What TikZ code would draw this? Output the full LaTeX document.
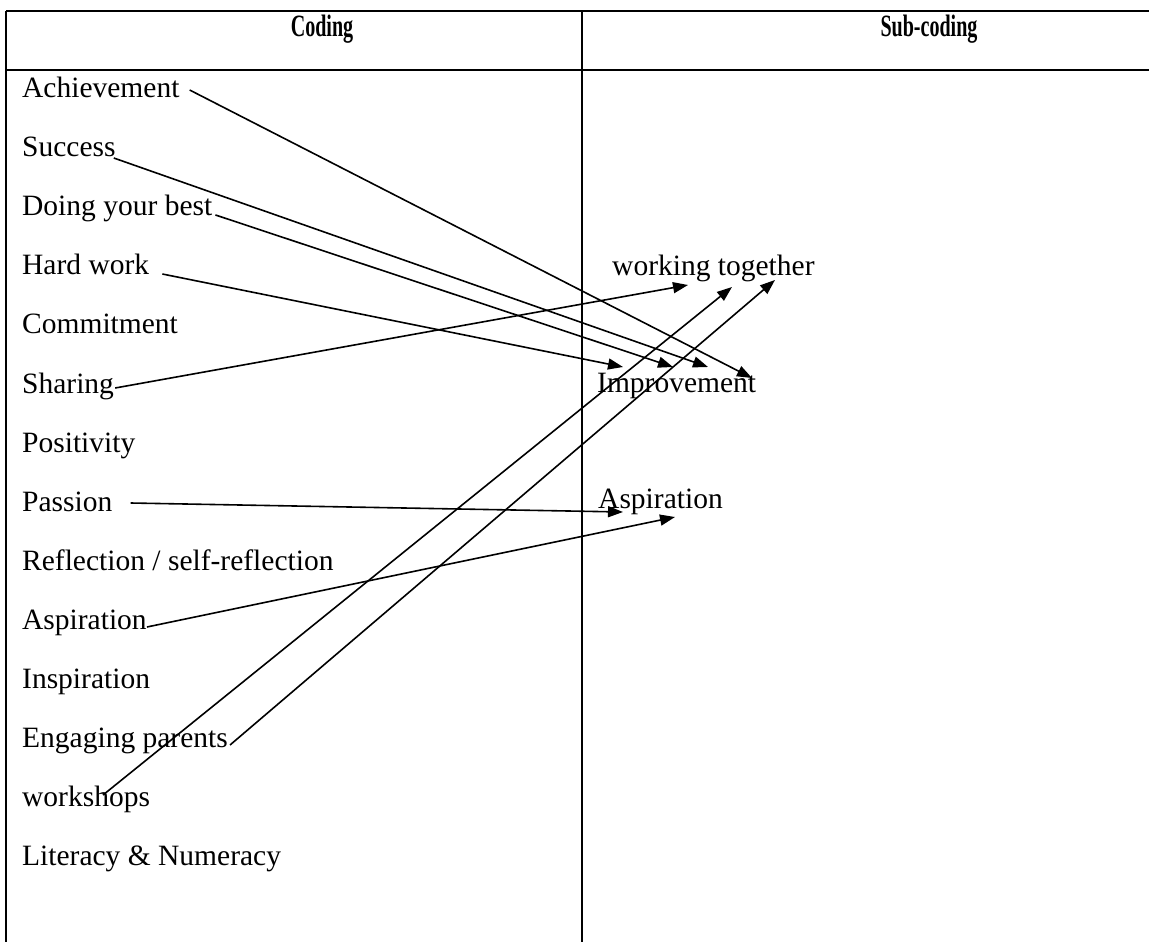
\documentclass[tikz,border=0pt]{standalone}
\usepackage{fontspec}
\usepackage{graphicx}
\setmainfont{Liberation Serif}
\usetikzlibrary{arrows.meta}
\newcommand{\narrowhead}[1]{\scalebox{0.68}[1.05]{#1}}
\begin{document}
\begin{tikzpicture}[x=1pt,y=-1pt,
  rule/.style={line width=2pt,black},
  item/.style={anchor=base west,inner sep=0pt,font=\fontsize{29.5}{35}\selectfont},
  head/.style={anchor=base,inner sep=0pt,font=\fontsize{29.5}{35}\selectfont\bfseries},
  link/.style={line width=1.6pt,-{Triangle[length=15pt,width=11pt]}}]
\useasboundingbox (0,0) rectangle (1149,942);

% table rules
\draw[rule] (6,11) -- (1160,11);
\draw[rule] (6,70) -- (1160,70);
\draw[rule] (6,11) -- (6,950);
\draw[rule] (582,11) -- (582,950);

% header
\node[head] (hcod) at (322,37) {\narrowhead{Coding}};
\node[head] (hsub) at (929,37) {\narrowhead{Sub-coding}};

% codes
\node[item] (ach) at (22,97)  {Achievement};
\node[item] (suc) at (22,156) {Success};
\node[item] (doi) at (22,215) {Doing your best};
\node[item] (hrd) at (22,274) {Hard work};
\node[item] (com) at (22,333) {Commitment};
\node[item] (shr) at (22,393) {Sharing};
\node[item] (pos) at (22,452) {Positivity};
\node[item] (pas) at (22,511) {Passion};
\node[item] (ref) at (22,570) {Reflection / self-reflection};
\node[item] (asp) at (22,629) {Aspiration};
\node[item] (ins) at (22,688) {Inspiration};
\node[item] (eng) at (22,747) {Engaging parents};
\node[item] (wsh) at (22,806) {workshops};
\node[item] (lit) at (22,865) {Literacy \& Numeracy};

% sub-codes
\node[item] (wtg) at (612,275) {working together};
\node[item] (imp) at (597,392) {Improvement};
\node[item] (sasp) at (598,508) {Aspiration};

% arrow tips
\coordinate (t1) at (752,378);
\coordinate (t2) at (708,367);
\coordinate (t3) at (673,367);
\coordinate (t4) at (623,367);
\coordinate (t5) at (688,285);
\coordinate (t6) at (623,512);
\coordinate (t7) at (675,517);
\coordinate (t8) at (732,287);
\coordinate (t9) at (775,280);

% links
\draw[link] ([shift={(10,-7)}]ach.base east) -- (t1);
\draw[link] ([shift={(-2,2)}]suc.base east) -- (t2);
\draw[link] ([shift={(3,0)}]doi.base east) -- (t3);
\draw[link] ([shift={(13,0)}]hrd.base east) -- (t4);
\draw[link] ([shift={(1,-5)}]shr.base east) -- (t5);
\draw[link] ([shift={(18,-8)}]pas.base east) -- (t6);
\draw[link] ([shift={(0,-2)}]asp.base east) -- (t7);
\draw[link] ([shift={(81,-11)}]wsh.base west) -- (t8);
\draw[link] ([shift={(2,-2)}]eng.base east) -- (t9);
\end{tikzpicture}
\end{document}
